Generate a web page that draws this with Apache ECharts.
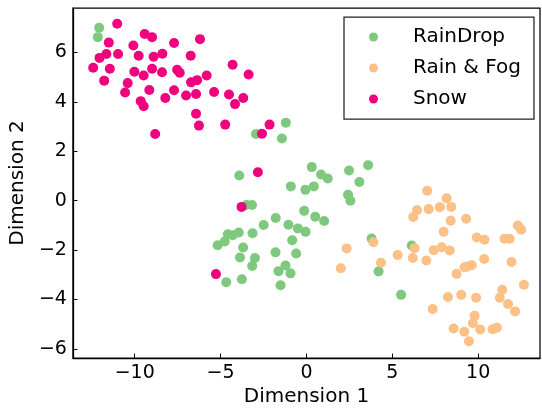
<!DOCTYPE html>
<html>
<head>
<meta charset="utf-8">
<script src="https://cdn.jsdelivr.net/npm/echarts@6/dist/echarts.min.js"></script>
<style>
  html, body { margin: 0; padding: 0; background: #fff; }
  #main { width: 542px; height: 412px; }
</style>
</head>
<body>
<div id="main"></div>
<script>
// tick positions
var xTicks = [-10, -5, 0, 5, 10];
var yTicks = [-6, -4, -2, 0, 2, 4, 6];

// [dim1, dim2]
var rainDrop = [
  [-12.07, 7.00], [-12.15, 6.62], [-2.94, 2.70], [-1.20, 3.16], [-1.43, 2.52],
  [0.31, 1.36], [-3.91, 1.02], [0.85, 1.06], [1.24, 0.90], [2.48, 1.22],
  [3.59, 1.44], [3.08, 0.76], [-0.91, 0.58], [-0.06, 0.44], [0.43, 0.58],
  [2.42, 0.24], [2.56, 0.00], [-3.49, -0.17], [-3.17, -0.17], [-0.13, -0.41],
  [0.51, -0.65], [1.03, -0.82], [-1.79, -0.70], [-2.49, -0.98], [-1.05, -0.97],
  [-0.50, -1.12], [-0.05, -1.26], [-3.14, -1.32], [-3.94, -1.29], [-4.58, -1.36],
  [-4.29, -1.40], [-4.76, -1.65], [-5.17, -1.80], [-3.69, -1.89], [-0.83, -1.60],
  [3.79, -1.53], [6.13, -1.81], [-1.80, -2.09], [-0.60, -2.14], [-3.87, -2.30],
  [-3.00, -2.32], [-3.16, -2.64], [-1.22, -2.62], [-1.63, -2.85], [-0.93, -2.94],
  [-4.67, -3.30], [-3.76, -3.18], [-1.51, -3.42], [4.20, -2.86], [5.51, -3.81]
];

var rainFog = [
  [3.90, -1.68], [2.34, -1.93], [2.00, -2.73], [4.34, -2.51], [5.31, -2.20],
  [6.19, -2.32], [6.30, -1.92], [6.98, -2.42], [7.41, -2.00], [7.87, -1.88],
  [8.34, -2.01], [7.03, 0.40], [8.16, 0.10], [8.43, -0.25], [7.77, -0.26],
  [7.12, -0.34], [6.44, -0.38], [6.22, -0.66], [8.40, -0.81], [9.30, -0.73],
  [7.99, -1.26], [9.92, -1.49], [10.37, -1.58], [11.53, -1.54], [11.83, -1.54],
  [12.31, -1.00], [12.50, -1.17], [10.35, -2.36], [11.94, -2.48], [9.21, -2.69],
  [9.38, -2.66], [9.63, -2.61], [8.74, -2.96], [12.66, -3.40], [11.40, -3.60],
  [11.26, -3.93], [11.74, -4.18], [12.15, -4.48], [8.24, -3.90], [9.01, -3.81],
  [9.88, -3.93], [7.35, -4.38], [9.79, -4.66], [9.69, -4.96], [10.12, -5.21],
  [8.57, -5.17], [9.19, -5.30], [9.46, -5.69], [10.84, -5.20], [11.09, -5.14]
];

var snow = [
  [-11.02, 7.16], [-11.51, 6.40], [-12.05, 5.78], [-11.65, 5.94], [-10.97, 5.94],
  [-12.42, 5.38], [-11.45, 5.34], [-11.78, 4.86], [-10.41, 4.76], [-10.56, 4.38],
  [-10.08, 6.28], [-9.77, 5.87], [-9.42, 6.75], [-8.99, 6.62], [-10.02, 5.22],
  [-9.48, 5.07], [-8.90, 5.83], [-8.39, 5.95], [-8.99, 5.34], [-8.41, 5.20],
  [-7.71, 6.38], [-9.15, 4.48], [-9.65, 4.03], [-9.48, 3.82], [-8.81, 2.70],
  [-8.22, 4.16], [-7.71, 4.47], [-7.53, 5.30], [-7.38, 5.18], [-6.74, 5.87],
  [-6.20, 6.54], [-6.72, 4.79], [-6.37, 4.88], [-5.81, 5.07], [-7.01, 4.26],
  [-6.43, 4.32], [-6.43, 3.52], [-6.26, 3.04], [-5.38, 4.40], [-4.51, 4.30],
  [-4.16, 3.91], [-3.68, 4.16], [-4.30, 5.50], [-3.37, 5.11], [-4.73, 3.08],
  [-2.59, 2.71], [-2.15, 3.08], [-2.83, 1.15], [-3.78, -0.25], [-5.27, -2.97]
];

var font = 'DejaVu Sans';
var minus = function (v) { return String(v).replace('-', '\u2212'); };

var myChart = echarts.init(document.getElementById('main'));
var option = {
    animation: false,
    grid: {
        left: 72, right: 2, top: 8, bottom: 50,
        show: true, borderColor: '#000', borderWidth: 1.25
    },
    legend: {
        orient: 'vertical',
        left: 344, top: 17,
        padding: [9, 13, 9, 25],
        itemWidth: 9, itemHeight: 9,
        itemGap: 9,
        icon: 'circle',
        borderColor: '#222', borderWidth: 1.25, borderRadius: 0,
        textStyle: { fontFamily: font, fontSize: 20, color: '#000', lineHeight: 22, padding: [0, 0, 0, 30] },
        data: ['RainDrop', 'Rain & Fog', 'Snow']
    },
    xAxis: {
        type: 'value',
        min: -13.6, max: 13.6,
        name: 'Dimension 1', nameLocation: 'middle', nameGap: 27,
        nameTextStyle: { fontFamily: font, fontSize: 20, color: '#000' },
        axisLine: { show: true, onZero: false, lineStyle: { color: '#000', width: 1.25 } },
        axisTick: { show: true, inside: true, length: 4.5, customValues: xTicks, lineStyle: { color: '#000' } },
        axisLabel: { customValues: xTicks, formatter: minus, margin: 5, fontFamily: font, fontSize: 19, color: '#000' },
        splitLine: { show: false }
    },
    yAxis: {
        type: 'value',
        min: -6.37, max: 7.8,
        name: 'Dimension 2', nameLocation: 'middle', nameGap: 44,
        nameTextStyle: { fontFamily: font, fontSize: 20, color: '#000' },
        axisLine: { show: true, onZero: false, lineStyle: { color: '#000', width: 1.25 } },
        axisTick: { show: true, inside: true, length: 4.5, customValues: yTicks, lineStyle: { color: '#000' } },
        axisLabel: { customValues: yTicks, formatter: minus, margin: 6, fontFamily: font, fontSize: 19, color: '#000' },
        splitLine: { show: false }
    },
    series: [
        { name: 'RainDrop', type: 'scatter', data: rainDrop, symbolSize: 10, itemStyle: { color: '#7fc97f', opacity: 1 } },
        { name: 'Rain & Fog', type: 'scatter', data: rainFog, symbolSize: 10, itemStyle: { color: '#fdc086', opacity: 1 } },
        { name: 'Snow', type: 'scatter', data: snow, symbolSize: 10, itemStyle: { color: '#f0027f', opacity: 1 } }
    ]
};

myChart.setOption(option);
</script>
</body>
</html>
